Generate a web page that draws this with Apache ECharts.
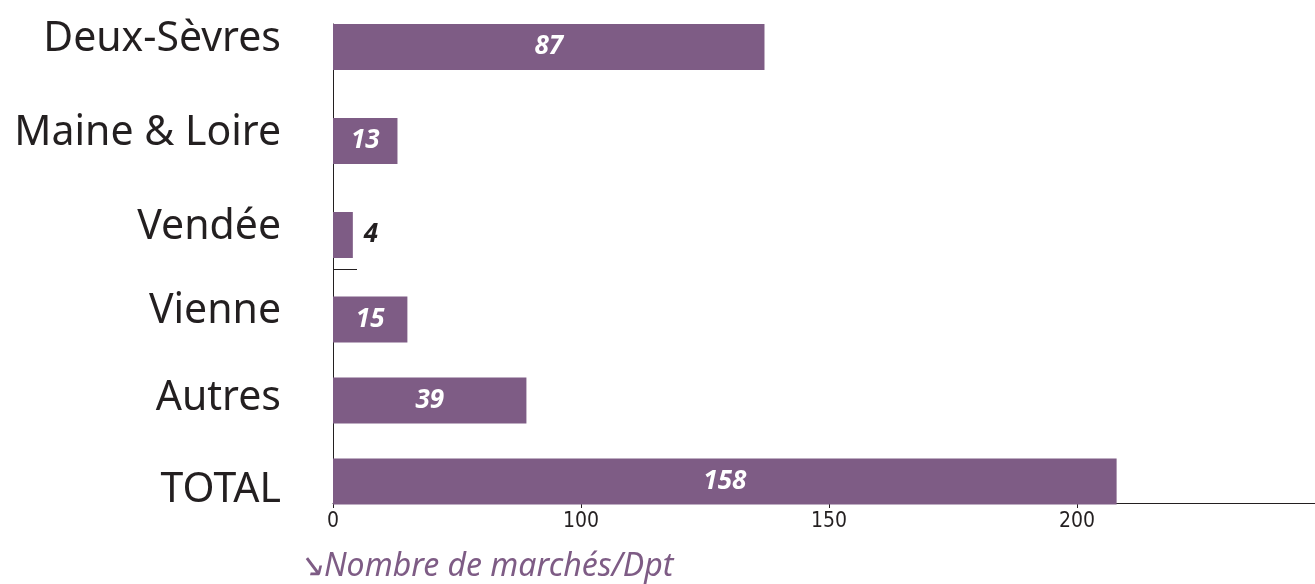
<!DOCTYPE html>
<html>
<head>
<meta charset="utf-8">
<script src="https://cdn.jsdelivr.net/npm/echarts@6/dist/echarts.min.js"></script>
<style>
html,body{margin:0;padding:0;background:#fff;}
#chart{width:1315px;height:584px;}
</style>
</head>
<body>
<div id="chart"></div>
<script>
const categories = ['Deux-Sèvres', 'Maine & Loire', 'Vendée', 'Vienne', 'Autres', 'TOTAL'];
const values = [87, 13, 4, 15, 39, 158];
const tickLabels = ['0', '100', '150', '200'];
const axisTitle = '↘Nombre de marchés/Dpt';

const PURPLE = '#7E5C85';
const INK = '#231F20';
const X_MAX = 198;

const topCats = categories.slice(0, 3), topVals = values.slice(0, 3);
const botCats = categories.slice(3), botVals = values.slice(3);

function barData(vals) {
  return vals.map(v => v < 8
    ? { value: v, label: { position: 'right', distance: 11, color: INK } }
    : { value: v });
}

const labelFont = { fontSize: 41, color: INK, fontFamily: 'Noto Sans' };
const hiddenX = { type: 'value', min: 0, max: X_MAX, interval: 50, show: false };
const catY = (grid, data) => ({
  type: 'category', gridIndex: grid, inverse: true, data: data,
  axisLine: { show: false }, axisTick: { show: false },
  axisLabel: {
    margin: 52, color: INK,
    formatter: v => (v === 'TOTAL' ? '{d|' : v === 'Autres' ? '{m|' : '{u|') + v + '}',
    rich: {
      u: Object.assign({ padding: [0, 0, 16, 0] }, labelFont),
      m: Object.assign({ padding: [0, 0, 4, 0] }, labelFont),
      d: Object.assign({ padding: [18, 0, 0, 0] }, labelFont)
    }
  }
});
const barLabel = {
  show: true, position: 'inside', color: '#fff', fontSize: 26,
  fontWeight: 'bold', fontStyle: 'italic', fontFamily: 'Noto Sans'
};

const chart = echarts.init(document.getElementById('chart'));
chart.setOption({
  animation: false,
  title: {
    text: axisTitle, left: 292, top: 546,
    textStyle: { color: PURPLE, fontSize: 32, fontStyle: 'italic', fontWeight: 'normal', fontFamily: 'Noto Sans' }
  },
  grid: [
    { left: 333, right: 0, top: 24, height: 479 },
    { left: 333, right: 0, top: 0, height: 282 },
    { left: 333, right: 0, top: 279, height: 243 }
  ],
  xAxis: [
    {
      type: 'value', gridIndex: 0, min: 0, max: X_MAX, interval: 50,
      splitLine: { show: false },
      axisLine: { show: true, onZero: false, lineStyle: { color: INK, width: 1 } },
      axisTick: { show: true, length: 5, lineStyle: { color: INK } },
      axisLabel: {
        margin: 8, fontSize: 21, color: INK,
        fontFamily: "'DejaVu Sans Condensed', 'Liberation Sans Narrow', Roboto, sans-serif",
        showMaxLabel: false,
        formatter: v => (v % 50 === 0 && tickLabels[v / 50] !== undefined) ? tickLabels[v / 50] : ''
      }
    },
    Object.assign({ gridIndex: 1 }, hiddenX),
    Object.assign({ gridIndex: 2 }, hiddenX)
  ],
  yAxis: [
    {
      type: 'value', gridIndex: 0, inverse: true, min: 0, max: 479, interval: 245,
      splitLine: { show: false }, axisLabel: { show: false },
      axisLine: { show: true, onZero: false, lineStyle: { color: INK, width: 1 } },
      axisTick: { show: true, inside: true, length: 24, lineStyle: { color: INK } }
    },
    catY(1, topCats),
    catY(2, botCats)
  ],
  series: [
    { type: 'bar', xAxisIndex: 1, yAxisIndex: 1, data: barData(topVals), barWidth: 46,
      itemStyle: { color: PURPLE }, label: barLabel, z: 3 },
    { type: 'bar', xAxisIndex: 2, yAxisIndex: 2, data: barData(botVals), barWidth: 46,
      itemStyle: { color: PURPLE }, label: barLabel, z: 3 }
  ]
});
</script>
</body>
</html>
